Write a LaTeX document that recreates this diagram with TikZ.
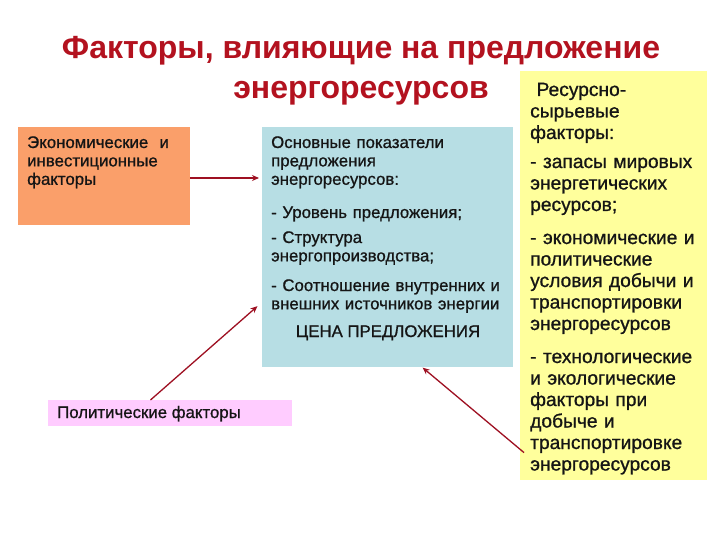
\documentclass[tikz,border=0pt]{standalone}
\usepackage{fontspec}
\setmainfont{Liberation Sans}
\newfontfamily\bodyfont{Liberation Sans}[RawFeature={embolden=0.9}]
\usetikzlibrary{arrows.meta,calc}
\definecolor{titlered}{HTML}{B3121F}
\definecolor{arrred}{HTML}{9E1022}
\definecolor{orangebox}{HTML}{FA9F6A}
\definecolor{bluebox}{HTML}{B7DEE4}
\definecolor{yellowbox}{HTML}{FFFF9C}
\definecolor{pinkbox}{HTML}{FFCCFF}
\definecolor{txt}{HTML}{151515}
\tikzset{
  panel/.style={anchor=north west, inner sep=0, outer sep=0, draw=none},
  para/.style={anchor=base west, inner sep=0, align=left, text=txt},
  smalltxt/.style={font=\bodyfont\fontsize{16.8}{18.4}\selectfont},
  bigtxt/.style={font=\bodyfont\fontsize{19.2}{21.5}\selectfont},
  arr/.style={draw=arrred, line width=1.3pt, -{Stealth[length=7pt,width=6pt]}},
}
\begin{document}
\begin{tikzpicture}[x=1pt,y=-1pt]
\useasboundingbox (0,0) rectangle (720,540);
\fill[white] (0,0) rectangle (720,540);
% title
\node[anchor=base, inner sep=0, text=titlered, font=\fontsize{32}{36}\selectfont\bfseries] (t1) at (361,59) {Факторы, влияющие на предложение};
\node[anchor=base, inner sep=0, text=titlered, font=\fontsize{32}{36}\selectfont\bfseries] (t2) at (361,99) {энергоресурсов};
% boxes
\node[panel, fill=orangebox, minimum width=172, minimum height=98] (econ) at (18,127) {};
\node[panel, fill=bluebox, minimum width=251, minimum height=240] (blue) at (262,127) {};
\node[panel, fill=yellowbox, minimum width=187, minimum height=409] (yel) at (520,71) {};
\node[panel, fill=pinkbox, minimum width=244, minimum height=26] (pink) at (48,400) {};
% orange text
\node[para, smalltxt, text width=165] (econt) at (27,148) {Экономические~ и\\инвестиционные\\факторы};
% blue text
\node[para, smalltxt, text width=250] (b1) at (271,148) {Основные показатели\\предложения\\энергоресурсов:};
\node[para, smalltxt, text width=250] (b2) at (271,218) {- Уровень предложения;};
\node[para, smalltxt, text width=250] (b3) at (271,243) {- Структура\\энергопроизводства;};
\node[para, smalltxt, text width=250] (b4) at (271,291) {- Соотношение внутренних и\\внешних источников энергии};
\node[anchor=base, inner sep=0, smalltxt, text=txt] (b5) at (388,337) {ЦЕНА ПРЕДЛОЖЕНИЯ};
% yellow text
\node[para, bigtxt, text width=185] (y1) at (530,96) {\ Ресурсно-\\сырьевые\\факторы:};
\node[para, bigtxt, text width=185] (y2) at (530,168) {- запасы мировых\\энергетических\\ресурсов;};
\node[para, bigtxt, text width=185] (y3) at (530,244) {- экономические и\\политические\\условия добычи и\\транспортировки\\энергоресурсов};
\node[para, bigtxt, text width=185] (y4) at (530,363) {- технологические\\и экологические\\факторы при\\добыче и\\транспортировке\\энергоресурсов};
% pink text
\node[para, smalltxt] (pinkt) at (57,418) {Политические факторы};
% arrows
\draw[arr, shorten >=3pt] ($(econ.east)+(0,2)$) -- ($(econ.east -| blue.west)+(0,2)$);
\draw[arr, shorten >=6pt] ($(pink.north west)!0.42!(pink.north east)$) -- ($(blue.north west)!0.73!(blue.south west)$);
\draw[arr, shorten >=1pt] ($(yel.north west)!0.933!(yel.south west)+(4,0)$) -- ($(blue.south west)!0.637!(blue.south east)$);
\end{tikzpicture}
\end{document}
